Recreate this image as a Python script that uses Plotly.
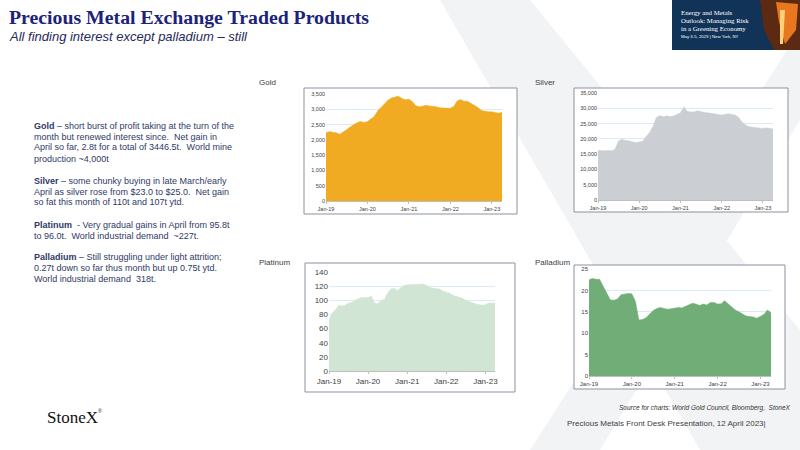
import pandas as pd
import plotly.graph_objects as go

# monthly ETP holdings (tonnes), Jan-2019 .. Apr-2023
months = pd.date_range("2019-01-01", periods=52, freq="MS")

gold = [2230, 2270, 2250, 2230, 2180, 2250, 2330, 2420, 2500, 2560, 2600, 2570,
        2600, 2680, 2760, 2950, 3080, 3180, 3300, 3370, 3400, 3430, 3350, 3310,
        3330, 3250, 3120, 3080, 3100, 3130, 3110, 3100, 3080, 3050, 3040, 3030,
        3030, 3100, 3270, 3320, 3260, 3260, 3190, 3120, 3060, 2960, 2930, 2920,
        2920, 2900, 2870, 2900]

silver = [16200, 16100, 16100, 16200, 16100, 16600, 19300, 19900, 19500, 19400, 19100, 18800,
          19000, 19200, 20700, 22000, 24000, 27000, 27600, 27200, 27500, 27300, 27500, 28000,
          28500, 30500, 29000, 28800, 28800, 29200, 28800, 28600, 28500, 28400, 28300, 28000,
          27800, 28000, 28200, 28000, 27800, 27000, 25500, 24500, 24000, 23800, 23600, 23400,
          23400, 23600, 23500, 23200]

platinum = [73, 82, 86, 93, 92, 93, 96, 97, 100, 102, 104, 104,
            104, 106, 96, 95, 100, 101, 110, 116, 117, 114, 118, 121,
            122, 122, 122, 123, 123, 123, 121, 118, 117, 117, 116, 113,
            112, 110, 107, 106, 105, 103, 100, 98, 96, 95, 94, 93,
            94, 96, 96, 96]

palladium = [22.5, 22.8, 22.6, 22.6, 21.0, 19.2, 17.8, 17.7, 18.0, 19.0, 19.1, 19.3,
             19.2, 17.4, 13.1, 13.2, 13.6, 14.4, 15.3, 15.8, 16.0, 15.8, 15.6, 15.7,
             15.9, 16.0, 15.9, 16.3, 16.6, 17.0, 16.8, 16.5, 16.8, 16.6, 17.2, 17.2,
             16.8, 16.9, 17.6, 16.9, 16.2, 15.4, 15.0, 14.5, 14.0, 13.9, 13.8, 13.5,
             14.0, 14.4, 15.4, 14.8]

year_ticks = pd.to_datetime(["2019-01-01", "2020-01-01", "2021-01-01", "2022-01-01", "2023-01-01"])
year_labels = ["Jan-19", "Jan-20", "Jan-21", "Jan-22", "Jan-23"]

W, H = 800, 450


def px(x):
    return x / W


def py(y):
    return 1 - y / H


# name, values, colour, plot box (x0, y0, x1, y1) in px, frame box, y max, y step, tick font size, label pos
panels = [
    ("Gold", gold, "#F0AB23", (326, 94, 502, 201), (304, 88, 517, 214), 3500, 500, 5.5, (257, 82)),
    ("Silver", silver, "#CBCED2", (598, 93, 773, 200), (574, 88, 788, 212), 35000, 5000, 5.5, (533, 82)),
    ("Platinum", platinum, "#D0E5D3", (329, 272, 495, 371), (305, 263, 515, 392), 140, 20, 8, (257, 262)),
    ("Palladium", palladium, "#70AD77", (589, 269, 771, 376), (574, 265, 785, 389), 25, 5, 6, (533, 262)),
]

fig = go.Figure()
shapes = []
annotations = []


def note(text, x, y, size, color, family, anchor="left"):
    annotations.append(dict(text=text, x=px(x), y=py(y), xref="paper", yref="paper",
                            xanchor=anchor, yanchor="middle", showarrow=False,
                            font=dict(size=size, color=color, family=family)))


# faint StoneX "X" watermark
wm = "#F2F3F5"
shapes.append(dict(type="path", xref="paper", yref="paper", layer="below",
                   path=f"M {px(440)},{py(0)} L {px(530)},{py(0)} L {px(800)},{py(330)} "
                        f"L {px(800)},{py(450)} L {px(700)},{py(450)} Z",
                   fillcolor=wm, line=dict(width=0)))
shapes.append(dict(type="path", xref="paper", yref="paper", layer="below",
                   path=f"M {px(800)},{py(30)} L {px(800)},{py(120)} L {px(600)},{py(450)} "
                        f"L {px(530)},{py(450)} Z",
                   fillcolor=wm, line=dict(width=0)))

for i, (name, vals, col, box, frame, ymax, ystep, tfs, lab) in enumerate(panels):
    n = "" if i == 0 else str(i + 1)
    fig.add_trace(go.Scatter(x=months, y=vals, mode="lines", fill="tozeroy",
                             fillcolor=col, line=dict(color=col, width=0.5),
                             xaxis="x" + n, yaxis="y" + n, showlegend=False))
    x0, y0, x1, y1 = box
    fig.layout["xaxis" + n] = dict(
        domain=[px(x0), px(x1)], anchor="y" + n, automargin=False,
        range=[months[0], months[-1]], tickvals=year_ticks, ticktext=year_labels,
        tickfont=dict(size=tfs, color="#404040", family="Liberation Sans"),
        showgrid=False, showline=True, linecolor="#BFBFBF", linewidth=1,
        ticks="outside", ticklen=2, tickcolor="#BFBFBF", zeroline=False)
    fig.layout["yaxis" + n] = dict(
        domain=[py(y1), py(y0)], anchor="x" + n, automargin=False,
        range=[0, ymax], dtick=ystep, tick0=0, tickformat=",",
        tickfont=dict(size=tfs, color="#404040", family="Liberation Sans"),
        showgrid=True, gridcolor="#DCEAF6", gridwidth=1, zeroline=False,
        showline=False, ticks="")
    fx0, fy0, fx1, fy1 = frame
    shapes.append(dict(type="rect", xref="paper", yref="paper", layer="below",
                       x0=px(fx0), x1=px(fx1), y0=py(fy1), y1=py(fy0),
                       fillcolor="white", line=dict(color="#8C919E", width=1)))
    note(name, lab[0], lab[1], 8, "#404040", "Liberation Sans")

# event banner top right
shapes.append(dict(type="rect", xref="paper", yref="paper", layer="above",
                   x0=px(672), x1=px(800), y0=py(50), y1=py(0),
                   fillcolor="#113358", line=dict(width=0)))
shapes.append(dict(type="path", xref="paper", yref="paper", layer="above",
                   path=f"M {px(760)},{py(0)} L {px(800)},{py(0)} L {px(800)},{py(50)} "
                        f"L {px(774)},{py(50)} L {px(764)},{py(30)} Z",
                   fillcolor="#5A2A12", line=dict(width=0)))
shapes.append(dict(type="path", xref="paper", yref="paper", layer="above",
                   path=f"M {px(776)},{py(2)} L {px(798)},{py(4)} L {px(796)},{py(30)} "
                        f"L {px(785)},{py(44)} L {px(779)},{py(22)} Z",
                   fillcolor="#E8771F", line=dict(width=0)))
shapes.append(dict(type="path", xref="paper", yref="paper", layer="above",
                   path=f"M {px(780)},{py(10)} L {px(785)},{py(10)} L {px(783)},{py(44)} "
                        f"L {px(780)},{py(44)} Z",
                   fillcolor="#FFD27A", line=dict(width=0)))
banner = ["Energy and Metals", "Outlook: Managing Risk", "in a Greening Economy"]
for k, t in enumerate(banner):
    note(t, 679, 13 + 8 * k, 6.8, "white", "Liberation Serif")
note("May 3-5, 2023 | New York, NY", 679, 36.5, 4.3, "white", "Liberation Sans")

# title block
note("<b>Precious Metal Exchange Traded Products</b>", 7, 17, 19.8, "#1B237A", "Liberation Serif")
note("<i>All finding interest except palladium – still</i>", 7, 37, 13, "#1F2A5C", "Liberation Sans")

# commentary
notes = [
    ("<b>Gold</b> – short burst of profit taking at the turn of the", 126),
    ("month but renewed interest since.  Net gain in", 136.5),
    ("April so far, 2.8t for a total of 3446.5t.  World mine", 147.5),
    ("production ~4,000t", 158.5),
    ("<b>Silver</b> – some chunky buying in late March/early", 181),
    ("April as silver rose from $23.0 to $25.0.  Net gain", 191.5),
    ("so fat this month of 110t and 107t ytd.", 202.5),
    ("<b>Platinum</b>  - Very gradual gains in April from 95.8t", 225),
    ("to 96.0t.  World industrial demand  ~227t.", 236),
    ("<b>Palladium</b> – Still struggling under light attrition;", 257),
    ("0.27t down so far thus month but up 0.75t ytd.", 267.5),
    ("World industrial demand  318t.", 278.5),
]
for t, yy in notes:
    note(t, 32, yy, 9, "#2F3A66", "Liberation Sans")

# footer
note("StoneX", 45, 417, 17, "#111111", "Liberation Serif")
note("®", 96, 411, 5, "#111111", "Liberation Sans")
note("<i>Source for charts: World Gold Council, Bloomberg,  StoneX</i>", 793, 407.5,
     6.5, "#333333", "Liberation Sans", anchor="right")
note("Precious Metals Front Desk Presentation, 12 April 2023|", 565, 423.5,
     8, "#404040", "Liberation Sans")

fig.update_layout(width=W, height=H,
                  margin=dict(l=0, r=0, t=0, b=0, pad=0, autoexpand=False),
                  paper_bgcolor="white", plot_bgcolor="rgba(0,0,0,0)",
                  shapes=shapes, annotations=annotations)

# page body margin would shift the slide by 8px
fig.write_html("out.html", config={"displayModeBar": False},
               post_script="document.body.style.margin='0';")
